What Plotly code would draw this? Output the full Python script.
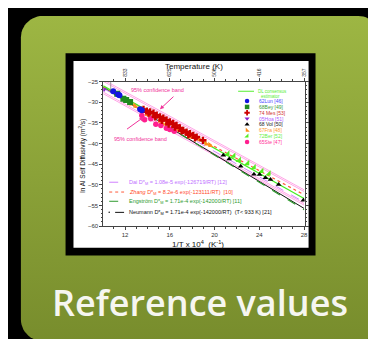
import numpy as np
import plotly.graph_objects as go

W, H = 376, 339
FONT = "Liberation Sans"

# ---------------- data ----------------
top_temps = [833, 625, 500, 416, 357]          # K, top axis labels
x_range = [10.05, 28.05]
y_range = [-60, -25]

# 62Lun [46]
lun_x = [10.94, 11.38, 11.50, 13.35, 13.50]
lun_y = [-27.3, -28.1, -28.3, -31.7, -31.9]
# 68Bey [49]
bey_x = [11.30, 11.85, 12.10, 12.45]
bey_y = [-27.9, -29.1, -29.4, -29.9]
# 74 Mes [53]
mes_x = [13.65, 13.95, 14.24, 14.54, 14.83, 15.12, 15.42, 15.71, 16.00, 16.30, 16.60,
         16.90, 17.20, 17.50, 17.80, 18.10, 18.40, 18.96,
         14.10, 14.70, 15.30, 15.90, 16.45, 17.05, 17.65, 18.25]
mes_y = [-31.7, -32.1, -32.3, -32.6, -33.1, -33.5, -33.8, -34.3, -34.7, -35.1, -35.6,
         -36.2, -36.8, -37.2, -37.6, -38.0, -38.4, -39.2,
         -32.6, -33.5, -34.4, -35.3, -36.0, -36.9, -37.8, -38.6]
# 05Hoa [51]
hoa_x = [10.12]
hoa_y = [-26.9]
# 68 Vol [50]
vol_x = [20.78, 21.31, 22.34, 23.52, 24.02, 24.55, 25.00, 25.73, 27.94]
vol_y = [-42.8, -43.7, -45.5, -47.4, -47.5, -48.3, -48.7, -49.9, -53.7]
# 67Fra [48]
fra_x = [12.53, 12.91, 13.35, 13.95, 14.20, 14.54, 15.12, 15.40, 15.71, 16.30, 16.60,
         16.90, 17.48, 17.80, 18.07, 18.66, 19.25, 19.60]
fra_y = [-30.3, -30.9, -31.8, -32.9, -33.5, -33.4, -34.5, -35.2, -35.2, -35.8, -36.6,
         -36.8, -37.6, -38.3, -38.4, -39.0, -40.0, -40.4]
# 72Ber [52]
ber_x = [21.17, 21.70, 22.20, 22.94, 23.52, 24.20, 24.85]
ber_y = [-42.5, -43.0, -44.0, -44.8, -45.8, -46.7, -47.3]
# 65Ste [47]
ste_x = [13.50, 13.75, 14.30, 14.75, 15.20, 15.70, 16.00, 16.40]
ste_y = [-33.2, -34.2, -34.0, -35.3, -35.6, -36.3, -36.6, -37.0]

# straight-line estimates: end points
line_x = [10.05, 28.0]
dl_y = [-26.0, -53.3]
dai_y = [-26.6, -54.2]
zhang_y = [-26.2, -52.4]
eng_y = [-26.3, -56.0]
neu_y = [-26.4, -55.7]
band_up1_y = [-24.5, -51.2]
band_up2_y = [-24.9, -51.6]
band_lo1_y = [-27.5, -54.5]
band_lo2_y = [-27.9, -54.9]
melt_T = 933

legend_names = ["62Lun [46]", "68Bey [49]", "74 Mes [53]", "05Hoa [51]",
                "68 Vol [50]", "67Fra [48]", "72Ber [52]", "65Ste [47]"]
legend_text_colors = ["#4a4aff", "#3a9a3a", "#d03030", "#b060ff",
                      "#222222", "#ff9933", "#66ee44", "#ff3399"]
legend_marker_colors = ["#1414e0", "#1f8a1f", "#cc0000", "#8a22cc",
                        "#000000", "#ff8c1a", "#55ee22", "#ff1f8f"]
legend_symbols = ["circle", "square", "cross", "triangle-down",
                  "triangle-up", "triangle-sw", "triangle-se", "circle"]

eq_texts = [
    "Dai D*<sub>M</sub> = 1.08e-5 exp(-126719/RT) [12]",
    "<i>Zhang</i> D*<sub>M</sub> = 8.2e-6 exp(-123111/RT)  [10]",
    "Engström D*<sub>M</sub> = 1.71e-4 exp(-142000/RT) [11]",
    "Neumann D*<sub>M</sub> = 1.71e-4 exp(-142000/RT)  (T< 933 K) [21]",
]
eq_colors = ["#c070ff", "#ff4a2a", "#2e9a2e", "#111111"]


def px(x):
    return x / W


def py(y):
    return 1 - y / H


def rrect(x0, y0, x1, y1, r, n=14):
    xs, ys = [], []
    corners = [(x1 - r, y0 + r, -90, 0), (x1 - r, y1 - r, 0, 90),
               (x0 + r, y1 - r, 90, 180), (x0 + r, y0 + r, 180, 270)]
    for cx, cy, a0, a1 in corners:
        for t in np.linspace(np.radians(a0), np.radians(a1), n):
            xs.append(cx + r * np.cos(t))
            ys.append(cy + r * np.sin(t))
    xs.append(xs[0])
    ys.append(ys[0])
    return xs, [H - v for v in ys]


fig = go.Figure()

# ---------------- background (pixel subplot) ----------------
cx, cy = rrect(13, 5, 375, 336, 22)
fig.add_trace(go.Scatter(x=cx, y=cy, fill="toself", mode="lines",
                         line=dict(width=0, color="rgba(0,0,0,0)"),
                         fillgradient=dict(type="vertical", start=H - 336, stop=H - 5,
                                           colorscale=[[0, "#778c2c"], [1, "#9db643"]]),
                         hoverinfo="skip", xaxis="x", yaxis="y"))
fx, fy = rrect(58, 43, 310, 249, 0.01, n=2)
fig.add_trace(go.Scatter(x=fx, y=fy, fill="toself", mode="lines", fillcolor="black",
                         line=dict(width=0, color="black"), hoverinfo="skip",
                         xaxis="x", yaxis="y"))
wx, wy = rrect(66, 51, 303, 241, 0.01, n=2)
fig.add_trace(go.Scatter(x=wx, y=wy, fill="toself", mode="lines", fillcolor="white",
                         line=dict(width=0, color="white"), hoverinfo="skip",
                         xaxis="x", yaxis="y"))

# legend symbols (pixel positions)
leg_rows = [91.7 + 5.95 * i for i in range(len(legend_names))]
fig.add_trace(go.Scatter(x=[241] * len(leg_rows), y=[H - r for r in leg_rows], mode="markers",
                         marker=dict(symbol=legend_symbols, color=legend_marker_colors, size=4.5,
                                     line=dict(width=0)),
                         hoverinfo="skip", xaxis="x", yaxis="y"))
fig.add_trace(go.Scatter(x=[232, 248], y=[H - 81.7] * 2, mode="lines",
                         line=dict(color="#55ee33", width=1), hoverinfo="skip",
                         xaxis="x", yaxis="y"))
# equation legend line samples
eq_rows = [174.3, 184.3, 193.7, 205]
eq_dash = ["dash", "dot", "dash", "solid"]
eq_line_col = ["#d080ff", "#ff5a3a", "#2e9a2e", "#111111"]
for r, d, c in zip(eq_rows, eq_dash, eq_line_col):
    x0 = 108 if d == "solid" else 102
    fig.add_trace(go.Scatter(x=[x0, 117], y=[H - r] * 2, mode="lines",
                             line=dict(color=c, width=1, dash=d), hoverinfo="skip",
                             xaxis="x", yaxis="y"))
fig.add_trace(go.Scatter(x=[102], y=[H - 205], mode="markers",
                         marker=dict(color="#111", size=1.5), hoverinfo="skip",
                         xaxis="x", yaxis="y"))

# ---------------- chart subplot ----------------
def add_line(yv, color, width, dash):
    fig.add_trace(go.Scatter(x=line_x, y=yv, mode="lines",
                             line=dict(color=color, width=width, dash=dash),
                             hoverinfo="skip", xaxis="x2", yaxis="y2"))


add_line(band_up1_y, "#ff8ee0", 0.8, "solid")
add_line(band_up2_y, "#ff8ee0", 0.8, "solid")
add_line(band_lo1_y, "#ff8ee0", 0.8, "solid")
add_line(band_lo2_y, "#ff8ee0", 0.8, "solid")
add_line(neu_y, "#111111", 1.0, "solid")
add_line(eng_y, "#2e9a2e", 1.2, "dash")
add_line(dai_y, "#d080ff", 1.0, "dash")
add_line(zhang_y, "#ff5a3a", 1.2, "dot")
add_line(dl_y, "#44ee22", 1.2, "solid")

series = [
    (fra_x, fra_y, "triangle-sw", "#ff8c1a", 6),
    (ste_x, ste_y, "circle", "#ff1f8f", 5.5),
    (mes_x, mes_y, "cross", "#cc0000", 6),
    (bey_x, bey_y, "square", "#1f8a1f", 6),
    (lun_x, lun_y, "circle", "#1414e0", 6),
    (hoa_x, hoa_y, "triangle-down", "#8a22cc", 5),
    (ber_x, ber_y, "triangle-se", "#55ee22", 6),
    (vol_x, vol_y, "triangle-up", "#000000", 5),
]
for sx, sy, sym, col, sz in series:
    fig.add_trace(go.Scatter(x=sx, y=sy, mode="markers",
                             marker=dict(symbol=sym, color=col, size=sz, line=dict(width=0)),
                             hoverinfo="skip", xaxis="x2", yaxis="y2"))

fig.add_trace(go.Scatter(x=[1e4 / t for t in top_temps], y=[None] * len(top_temps),
                         mode="markers", hoverinfo="skip", xaxis="x3", yaxis="y2"))

# melting point marker
mx = 1e4 / melt_T
fig.add_shape(type="line", xref="x2", yref="y2", x0=mx, x1=mx, y0=-25, y1=-26.9,
              line=dict(color="#888", width=0.8))

axis_common = dict(showline=True, linecolor="#444", linewidth=0.8, ticks="outside",
                   ticklen=3, tickwidth=0.8, tickcolor="#444", showgrid=False,
                   zeroline=False, fixedrange=True,
                   tickfont=dict(size=6, color="#333", family=FONT))

fig.update_layout(
    width=W, height=H, margin=dict(l=0, r=0, t=0, b=0),
    paper_bgcolor="black", plot_bgcolor="rgba(0,0,0,0)", showlegend=False,
    xaxis=dict(domain=[0, 1], range=[0, W], visible=False, fixedrange=True),
    yaxis=dict(domain=[0, 1], range=[0, H], visible=False, fixedrange=True),
    xaxis2=dict(domain=[px(96), px(299)], anchor="y2", range=x_range,
                tickmode="linear", tick0=0, dtick=4,
                minor=dict(tickmode="linear", tick0=0, dtick=1, ticks="outside",
                           ticklen=1.5, tickcolor="#444"),
                **axis_common),
    xaxis3=dict(overlaying="x2", anchor="y2", side="top", range=x_range,
                tickmode="array", tickvals=[1e4 / t for t in top_temps],
                ticktext=[str(t) for t in top_temps], tickangle=-90,
                minor=dict(tickmode="linear", tick0=0, dtick=1, ticks="outside",
                           ticklen=1.5, tickcolor="#444"),
                **{**axis_common, "tickfont": dict(size=5, color="#333", family=FONT)}),
    yaxis2=dict(domain=[py(219), py(72)], anchor="x2", range=y_range,
                tickmode="linear", tick0=0, dtick=5, mirror="ticks",
                minor=dict(tickmode="linear", tick0=0, dtick=1, ticks="outside",
                           ticklen=1.5, tickcolor="#444"),
                **axis_common),
)

ann = []
ann.append(dict(x=px(187), y=py(56), text="Temperature (K)", font=dict(size=8, color="#111", family=FONT)))
ann.append(dict(x=px(192), y=py(237), text="1/T x 10<sup>4</sup>  (K<sup>-1</sup>)",
                font=dict(size=8, color="#111", family=FONT)))
ann.append(dict(x=px(75), y=py(147), text="ln Al Self Diffusivity (m<sup>2</sup>/s)", textangle=-90,
                font=dict(size=6.5, color="#111", family=FONT)))
# confidence band labels
ann.append(dict(x=14.92, y=-26.9, xref="x2", yref="y2", text="95% confidence band",
                font=dict(size=5.5, color="#f0329a", family=FONT)))
ann.append(dict(x=13.35, y=-38.8, xref="x2", yref="y2", text="95% confidence band",
                font=dict(size=5.5, color="#f0329a", family=FONT)))
ann.append(dict(x=15.12, y=-31.67, xref="x2", yref="y2", text="", showarrow=True,
                ax=15, ay=-14, arrowhead=2, arrowsize=0.8, arrowwidth=1, arrowcolor="#f0329a"))
ann.append(dict(x=13.65, y=-33.6, xref="x2", yref="y2", text="", showarrow=True,
                ax=-18, ay=13, arrowhead=2, arrowsize=0.8, arrowwidth=1, arrowcolor="#f0329a"))
# legend texts
ann.append(dict(x=px(250), y=py(81.7), text="DL consensus", xanchor="left",
                font=dict(size=4.5, color="#55ee33", family=FONT)))
ann.append(dict(x=px(252.7), y=py(86.7), text="estimator", xanchor="left",
                font=dict(size=4.5, color="#55ee33", family=FONT)))
for name, col, r in zip(legend_names, legend_text_colors, leg_rows):
    ann.append(dict(x=px(251), y=py(r), text=name, xanchor="left",
                    font=dict(size=5, color=col, family=FONT)))
for t, col, r in zip(eq_texts, eq_colors, eq_rows):
    ann.append(dict(x=px(120), y=py(r), text=t, xanchor="left",
                    font=dict(size=5.5, color=col, family=FONT)))
# card caption
ann.append(dict(x=px(194), y=py(297), text="Reference values",
                font=dict(size=36, color="#f6f6f0", family="Open Sans", weight=600)))

for a in ann:
    a.setdefault("xref", "paper")
    a.setdefault("yref", "paper")
    a.setdefault("showarrow", False)
    a.setdefault("yanchor", "middle")
    a.setdefault("xanchor", "center")
fig.update_layout(annotations=ann)

fig.write_html("out.html")
